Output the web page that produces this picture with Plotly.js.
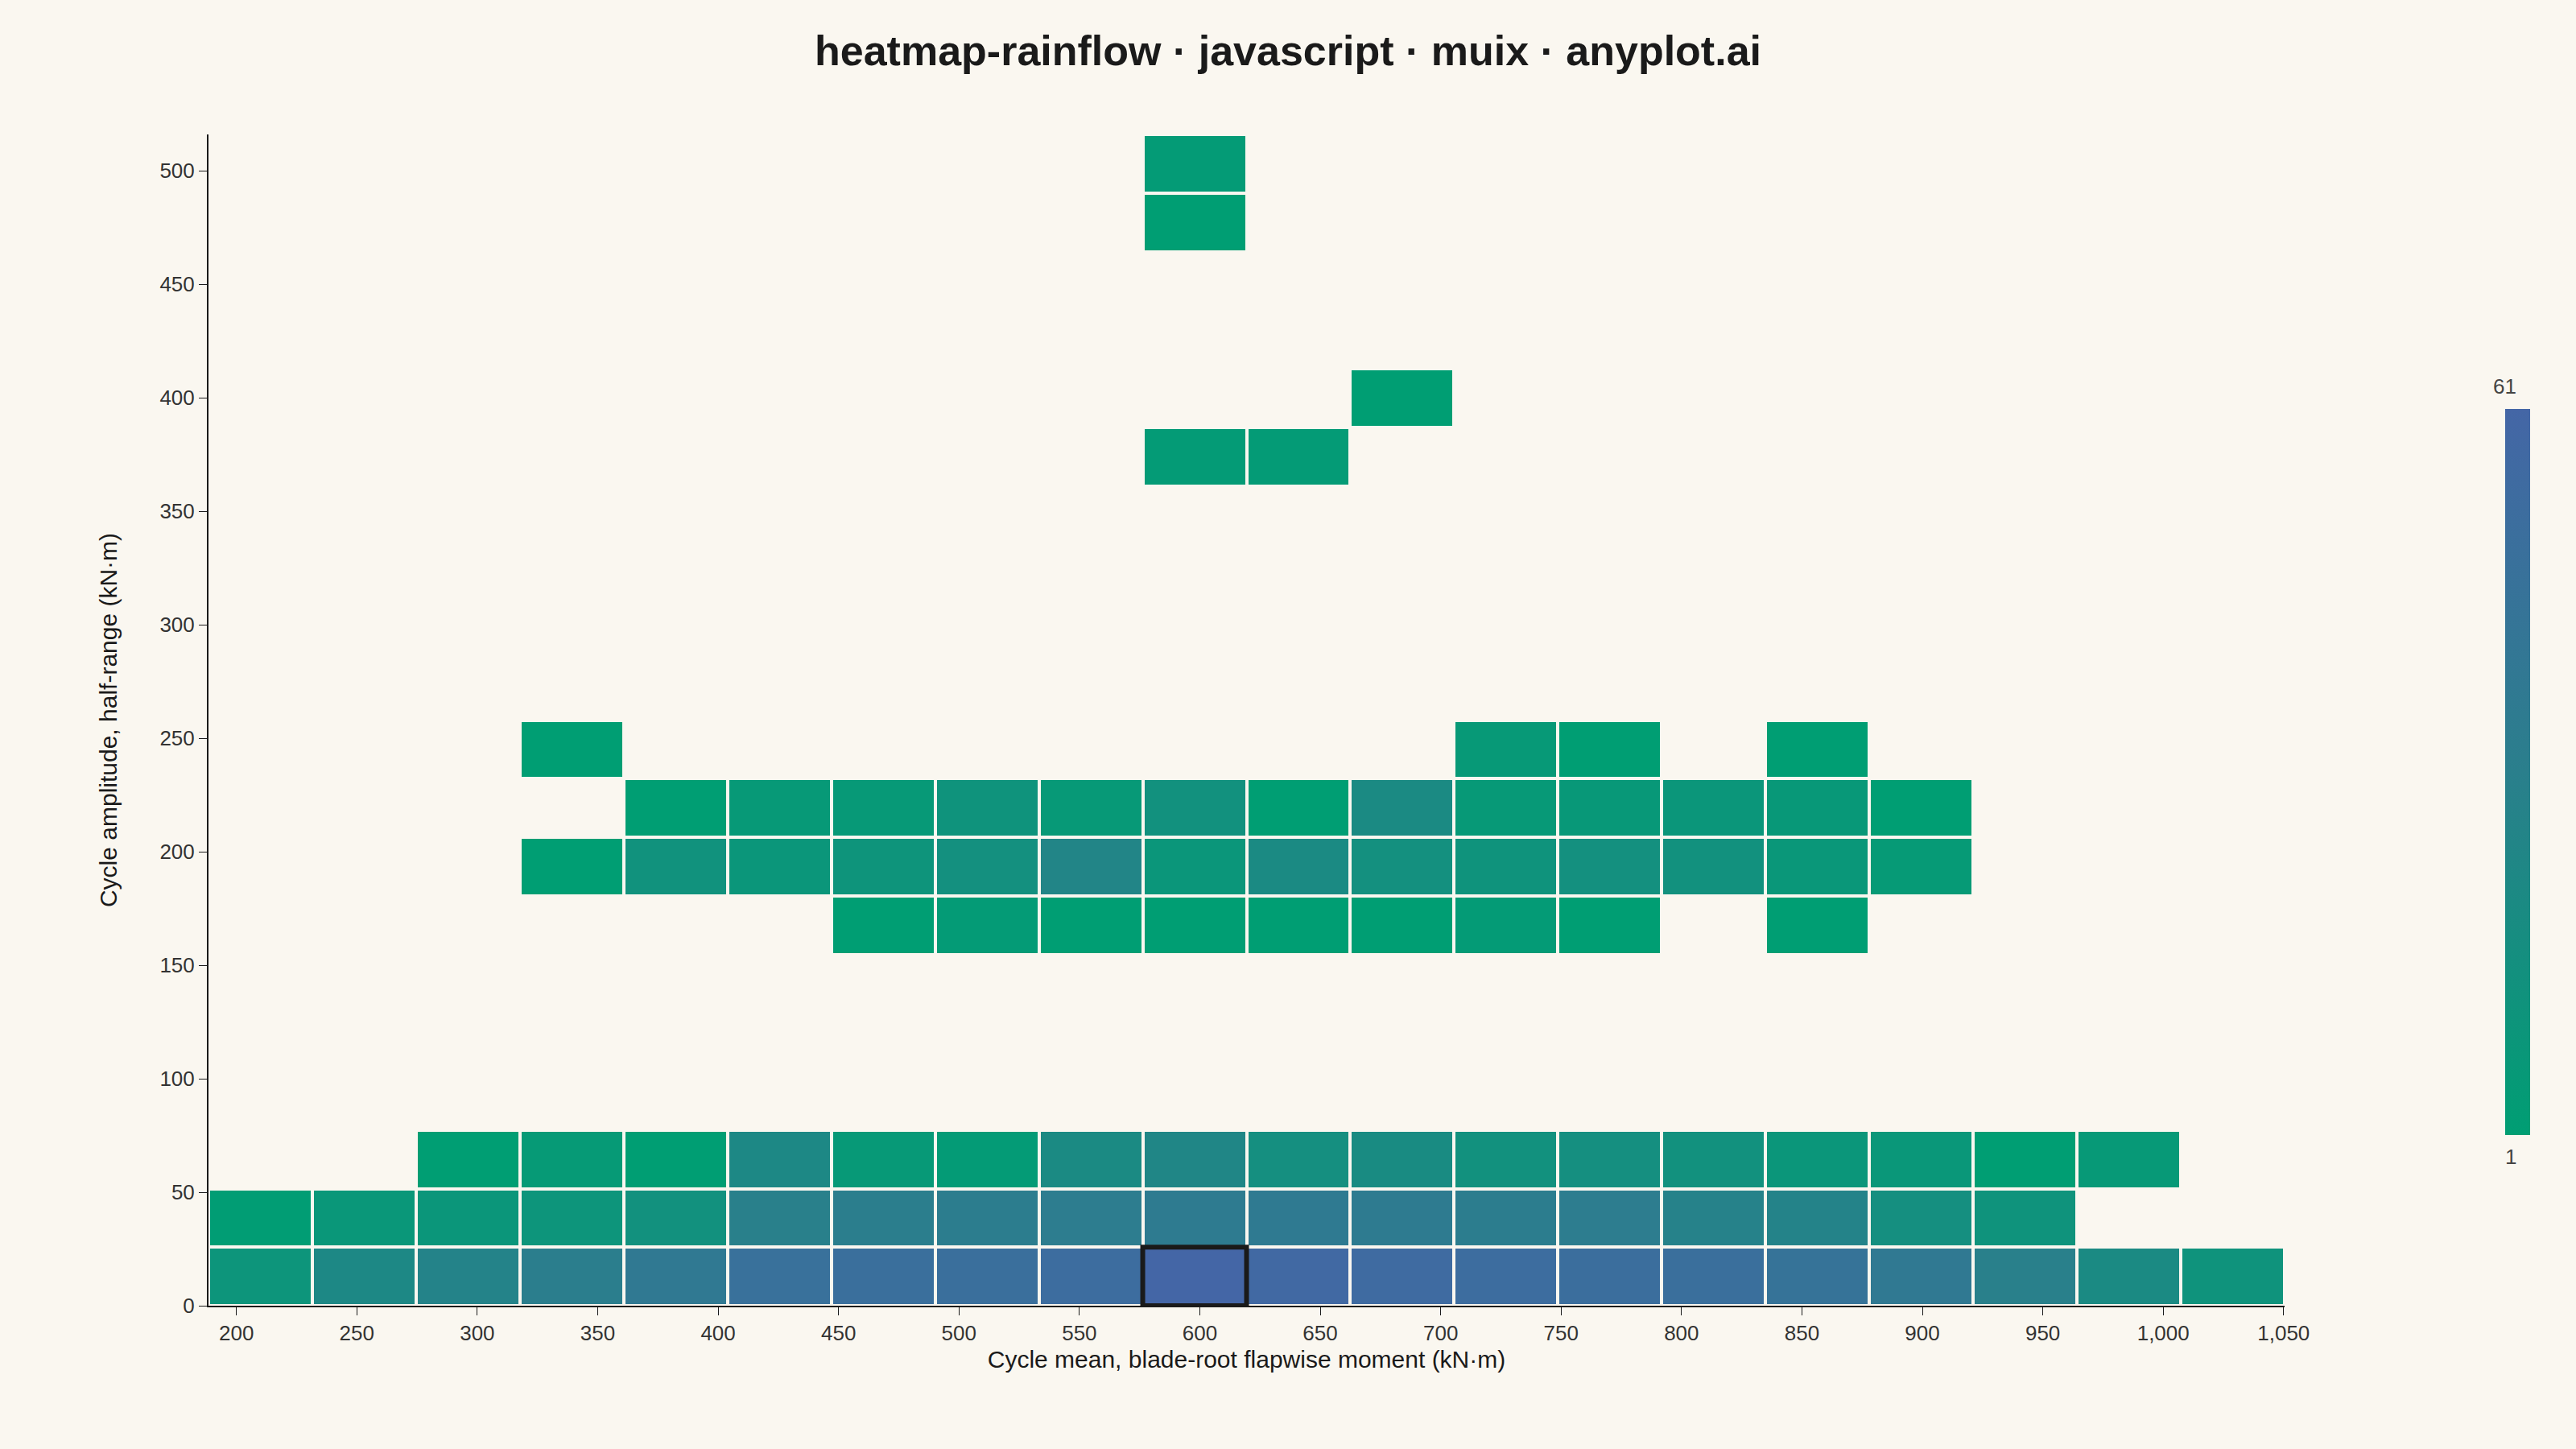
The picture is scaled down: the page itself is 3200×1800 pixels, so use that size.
<!DOCTYPE html>
<html>
<head>
<meta charset="utf-8">
<script src="https://cdn.plot.ly/plotly-3.0.1.min.js"></script>
<style>html,body{margin:0;background:#FAF7F0;}</style>
</head>
<body>
<div id="chart" style="width:3200px;height:1800px;"></div>
<script>
// rainflow bins: mean (kN·m) and amplitude (kN·m)
var meanStart = 188.4, meanWidth = 43.1, nMean = 20;
var ampStart = 0, ampWidth = 25.8, nAmp = 20;

// cycle counts per amplitude row, [first column, values...]
var row0 = [0, 10, 22, 27, 32, 38, 48, 50, 50, 53, 61, 57, 55, 53, 51, 50, 45, 38, 30, 20, 12];
var row1 = [0, 2, 8, 9, 10, 14, 30, 32, 33, 34, 36, 37, 36, 33, 34, 28, 27, 16, 12];
var row2 = [2, 1, 5, 1, 22, 6, 4, 20, 24, 16, 19, 14, 16, 14, 9, 8, 1, 6];
var row6 = [6, 1, 4, 1, 1, 1, 1, 4, 1, null, 1];
var row7 = [3, 1, 13, 9, 11, 15, 25, 9, 20, 15, 12, 15, 14, 8, 5];
var row8 = [4, 1, 6, 6, 12, 6, 14, 1, 20, 6, 7, 9, 7, 1];
var row9 = [3, 1, null, null, null, null, null, null, null, null, 6, 1, null, 1];
var row14 = [9, 4, 4];
var row15 = [11, 1];
var row18 = [9, 1];
var row19 = [9, 4];
var rows = {0: row0, 1: row1, 2: row2, 6: row6, 7: row7, 8: row8, 9: row9, 14: row14, 15: row15, 18: row18, 19: row19};

var xCenters = [], yCenters = [], z = [];
for (var i = 0; i < nMean; i++) xCenters.push(meanStart + meanWidth * (i + 0.5));
for (var j = 0; j < nAmp; j++) {
  yCenters.push(ampStart + ampWidth * (j + 0.5));
  var line = [];
  for (var k = 0; k < nMean; k++) line.push(null);
  if (rows[j]) {
    var r = rows[j];
    for (var k = 1; k < r.length; k++) line[r[0] + k - 1] = r[k];
  }
  z.push(line);
}

// find the peak cell
var best = -1, bi = 0, bj = 0;
z.forEach(function (line, j) { line.forEach(function (v, i) { if (v != null && v > best) { best = v; bi = i; bj = j; } }); });

var font = 'Liberation Sans, Arial, sans-serif';
var plotW = 3200 - 259 - 362;
var trace = {
  type: 'heatmap',
  x: xCenters, y: yCenters, z: z,
  zmin: 1, zmax: 61,
  colorscale: [[0, '#009E73'], [0.5, '#2A7F8C'], [1, '#4466A6']],
  xgap: 4, ygap: 4,
  hoverongaps: false,
  colorbar: {
    thickness: 31, len: 0.634, y: 0.456, yanchor: 'middle',
    x: (3112 - 259) / plotW, xanchor: 'left', xpad: 0,
    showticklabels: false, ticks: '', outlinewidth: 0
  }
};

var layout = {
  width: 3200, height: 1800,
  paper_bgcolor: '#FAF7F0', plot_bgcolor: '#FAF7F0',
  margin: {l: 259, r: 362, t: 167, b: 178},
  font: {family: font, size: 26, color: '#333'},
  separators: '.,',
  title: {text: '<b>heatmap-rainflow · javascript · muix · anyplot.ai</b>', x: 0.5, y: 0.975, font: {size: 52, color: '#1a1a1a'}},
  xaxis: {
    range: [meanStart, meanStart + meanWidth * nMean], tickvals: [200,250,300,350,400,450,500,550,600,650,700,750,800,850,900,950,1000,1050],
    tickformat: ',d', showgrid: false, zeroline: false, showline: true, linecolor: '#1a1a1a', linewidth: 2,
    ticks: 'outside', ticklen: 10, tickcolor: '#1a1a1a',
    title: {text: 'Cycle mean, blade-root flapwise moment (kN·m)', font: {size: 30, color: '#1a1a1a'}, standoff: 8}
  },
  yaxis: {
    range: [0, ampWidth * nAmp], dtick: 50, showgrid: false, zeroline: false, showline: true, linecolor: '#1a1a1a', linewidth: 2,
    ticks: 'outside', ticklen: 10, tickcolor: '#1a1a1a',
    title: {text: 'Cycle amplitude, half-range (kN·m)', font: {size: 30, color: '#1a1a1a'}, standoff: 44}
  },
  shapes: [{
    type: 'rect', xref: 'x', yref: 'y',
    x0: meanStart + meanWidth * bi, x1: meanStart + meanWidth * (bi + 1),
    y0: ampStart + ampWidth * bj, y1: ampStart + ampWidth * (bj + 1),
    line: {color: '#1a1a1a', width: 6}
  }],
  annotations: [
    {text: '61', xref: 'paper', yref: 'paper', x: (3128 - 259) / plotW, y: 0.456 + 0.317, yanchor: 'bottom', showarrow: false, font: {size: 26, color: '#444'}},
    {text: '1', xref: 'paper', yref: 'paper', x: (3128 - 259) / plotW, y: 0.456 - 0.317, yanchor: 'top', showarrow: false, font: {size: 26, color: '#444'}}
  ]
};

Plotly.newPlot('chart', [trace], layout, {displayModeBar: false});
</script>
</body>
</html>
